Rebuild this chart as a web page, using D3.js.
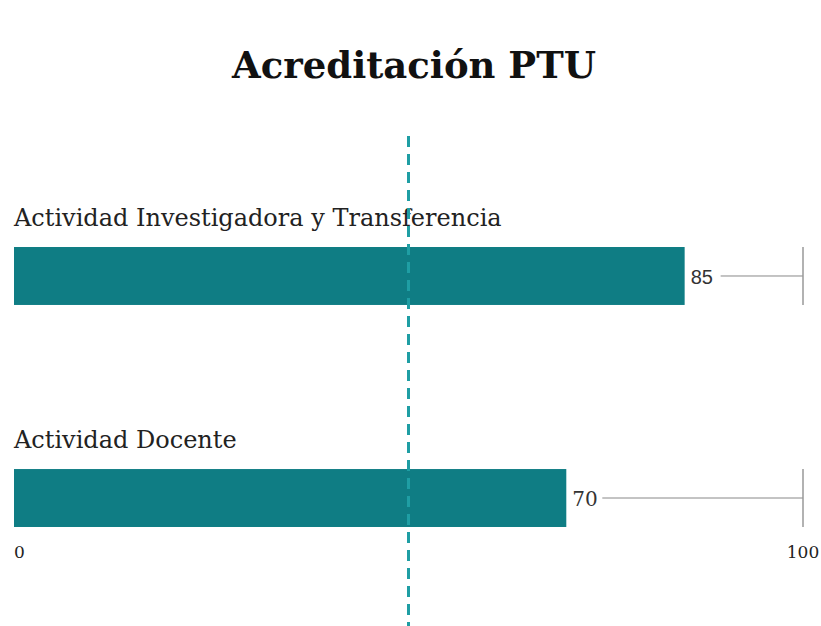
<!DOCTYPE html>
<html>
<head>
<meta charset="utf-8">
<script src="https://cdn.jsdelivr.net/npm/d3@7"></script>
<style>
  body { margin: 0; background: #fff; }
  svg { display: block; }
</style>
</head>
<body>
<svg id="chart"></svg>
<script>
// data
var categories = ["Actividad Investigadora y Transferencia", "Actividad Docente"];
var values = [85, 70];
var maxValue = 100;
var refValue = 50;
var axisTicks = [0, 100];
var chartTitle = "Acreditación PTU";

var width = 821, height = 626;
var svg = d3.select("#chart").attr("width", width).attr("height", height);

var x = d3.scaleLinear().domain([0, maxValue]).range([14, 803]);
var y = d3.scaleBand().domain(categories).range([136, 638]).paddingInner(0.739).paddingOuter(0.5);

var serif = "'DejaVu Serif', 'Liberation Serif', serif";

svg.append("text")
    .attr("x", 414)
    .attr("y", 78)
    .attr("text-anchor", "middle")
    .style("font-family", serif)
    .style("font-weight", "bold")
    .style("font-size", "37px")
    .style("fill", "#111")
    .text(chartTitle);

var rows = svg.selectAll("g.row").data(categories).enter().append("g").attr("class", "row");

rows.append("text")
    .attr("x", x(0))
    .attr("y", function (d) { return y(d) - 21; })
    .style("font-family", serif)
    .style("font-size", "24px")
    .style("fill", "#222")
    .text(function (d) { return d; });

rows.append("rect")
    .attr("x", x(0))
    .attr("y", function (d) { return y(d); })
    .attr("width", function (d, i) { return x(values[i]) - x(0); })
    .attr("height", y.bandwidth())
    .style("fill", "#0f7d84");

// track line to max
rows.append("line")
    .attr("x1", function (d, i) { return x(values[i]) + 36; })
    .attr("x2", x(maxValue))
    .attr("y1", function (d) { return y(d) + y.bandwidth() / 2; })
    .attr("y2", function (d) { return y(d) + y.bandwidth() / 2; })
    .style("stroke", "#888")
    .style("stroke-width", 1);

rows.append("line")
    .attr("x1", x(maxValue))
    .attr("x2", x(maxValue))
    .attr("y1", function (d) { return y(d); })
    .attr("y2", function (d) { return y(d) + y.bandwidth(); })
    .style("stroke", "#999")
    .style("stroke-width", 1.5);

rows.append("text")
    .attr("x", function (d, i) { return x(values[i]) + 6; })
    .attr("y", function (d) { return y(d) + y.bandwidth() / 2 + 8; })
    .style("font-family", function (d, i) { return i === 0 ? "'Liberation Sans', Arial, sans-serif" : serif; })
    .style("font-size", "20px")
    .style("fill", "#333")
    .text(function (d, i) { return values[i]; });

svg.selectAll("text.tick").data(axisTicks).enter().append("text")
    .attr("class", "tick")
    .attr("x", function (d) { return x(d); })
    .attr("y", 558)
    .attr("text-anchor", function (d) { return d === 0 ? "start" : "middle"; })
    .style("font-family", serif)
    .style("font-size", "17px")
    .style("fill", "#222")
    .text(function (d) { return d; });

// reference dashed line
svg.append("line")
    .attr("x1", x(refValue))
    .attr("x2", x(refValue))
    .attr("y1", 136)
    .attr("y2", height)
    .style("stroke", "#1f9ea4")
    .style("stroke-width", 3)
    .style("stroke-dasharray", "11,7");
</script>
</body>
</html>
